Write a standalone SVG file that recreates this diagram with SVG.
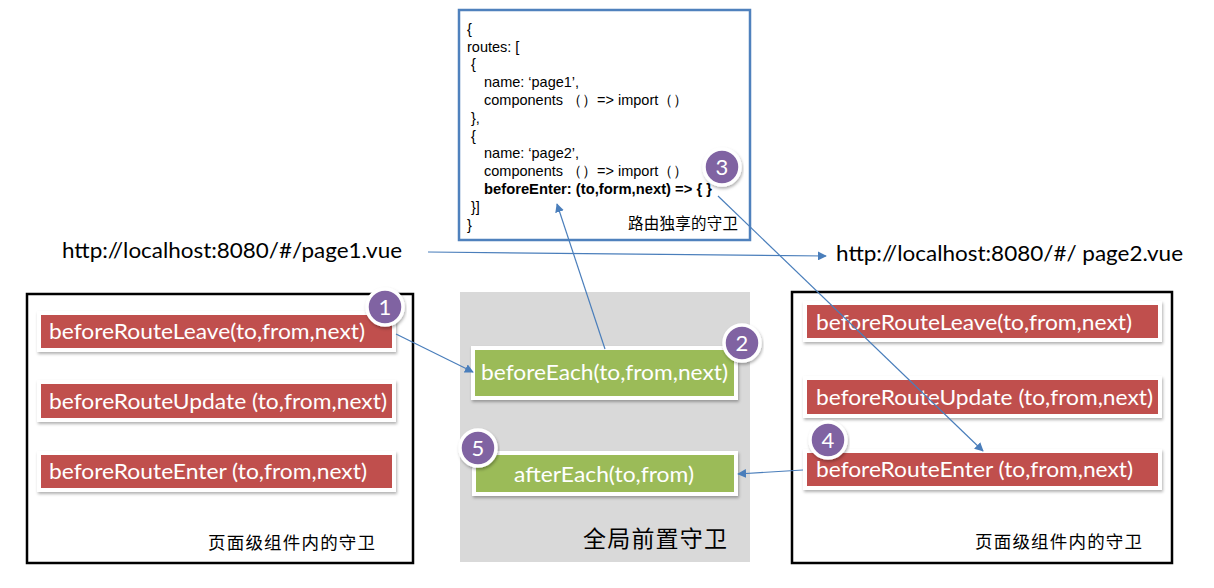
<svg xmlns="http://www.w3.org/2000/svg" width="1214" height="588" viewBox="0 0 1214 588">
<defs>
<filter id="sh" x="-10%" y="-20%" width="120%" height="150%">
<feDropShadow dx="1" dy="2" stdDeviation="1.5" flood-color="#000" flood-opacity="0.3"/>
</filter>
<marker id="ah" viewBox="0 0 10 10" refX="9" refY="5" markerWidth="9" markerHeight="9" markerUnits="userSpaceOnUse" orient="auto">
<path d="M0,0 L10,5 L0,10 Z" fill="#4A7EBB"/>
</marker>
</defs>
<style>
.frame{fill:#fff;stroke:#000;stroke-width:2.5}
.red{fill:#C0504D;stroke:#fff;stroke-width:4;filter:url(#sh)}
.green{fill:#9BBB59;stroke:#fff;stroke-width:4;filter:url(#sh)}
.lbl{font-family:Lato,"Open Sans","Liberation Sans",sans-serif;font-size:22px;fill:#fff}
.url{font-family:Lato,"Open Sans","Liberation Sans",sans-serif;font-size:22px;fill:#000}
.code{font-family:"Liberation Sans",Arial,sans-serif;font-size:14.5px;fill:#000}
.cjk{font-family:"Noto Sans CJK SC","Noto Sans",sans-serif;fill:#000}
.badge circle{fill:#8064A2;stroke:#fff;stroke-width:3.5;filter:url(#sh)}
.badge text{font-family:Lato,"Liberation Sans",sans-serif;font-size:22px;fill:#fff;text-anchor:middle}
.conn{stroke:#4A7EBB;stroke-width:1.2;fill:none;marker-end:url(#ah)}
</style>
<rect width="1214" height="588" fill="#fff"/>

<g id="route-config">
<rect x="459" y="10" width="291" height="230" fill="#fff" stroke="#4F81BD" stroke-width="2.5"/>
<text class="code" x="467" y="33.7">{</text>
<text class="code" x="467" y="51.5">routes: [</text>
<text class="code" x="471" y="69.3">{</text>
<text class="code" x="484" y="87.1">name: ‘page1’,</text>
<text class="code" x="484" y="104.9">components （）=&gt; import（）</text>
<text class="code" x="471" y="122.7">},</text>
<text class="code" x="471" y="140.5">{</text>
<text class="code" x="484" y="158.3">name: ‘page2’,</text>
<text class="code" x="484" y="176.1">components （）=&gt; import（）</text>
<text class="code" x="484" y="193.9" font-weight="bold" textLength="228" lengthAdjust="spacingAndGlyphs">beforeEnter: (to,form,next) =&gt; { }</text>
<text class="code" x="471" y="211.7">}]</text>
<text class="code" x="467" y="229.5">}</text>
<text class="cjk" x="628" y="229" font-size="15.5" textLength="110">路由独享的守卫</text>
</g>

<g id="url-page1">
<text class="url" x="62" y="258" textLength="340" lengthAdjust="spacingAndGlyphs">http://localhost:8080/#/page1.vue</text>
</g>
<g id="url-page2">
<text class="url" x="836" y="261" textLength="347" lengthAdjust="spacingAndGlyphs">http://localhost:8080/#/ page2.vue</text>
</g>

<g id="page1-guards">
<rect class="frame" x="27" y="294" width="386" height="269"/>
<rect class="red" x="39" y="313" width="355" height="37"/>
<text class="lbl" x="49" y="339" textLength="316" lengthAdjust="spacingAndGlyphs">beforeRouteLeave(to,from,next)</text>
<rect class="red" x="39" y="382" width="355" height="38"/>
<text class="lbl" x="49" y="409" textLength="338" lengthAdjust="spacingAndGlyphs">beforeRouteUpdate (to,from,next)</text>
<rect class="red" x="39" y="453" width="355" height="37"/>
<text class="lbl" x="49" y="479" textLength="318" lengthAdjust="spacingAndGlyphs">beforeRouteEnter (to,from,next)</text>
<text class="cjk" x="208" y="549" font-size="17.5" textLength="167">页面级组件内的守卫</text>
</g>

<g id="global-guards">
<rect x="460" y="292" width="290" height="270" fill="#D9D9D9"/>
<rect class="green" x="473" y="348" width="263" height="50"/>
<text class="lbl" x="481" y="380" textLength="247" lengthAdjust="spacingAndGlyphs">beforeEach(to,from,next)</text>
<rect class="green" x="474" y="453" width="262" height="41"/>
<text class="lbl" x="514" y="482" textLength="180" lengthAdjust="spacingAndGlyphs">afterEach(to,from)</text>
<text class="cjk" x="583" y="547" font-size="23" textLength="144">全局前置守卫</text>
</g>

<g id="page2-guards">
<rect class="frame" x="792" y="292" width="380" height="271"/>
<rect class="red" x="805" y="303" width="355" height="37"/>
<text class="lbl" x="816" y="330" textLength="316" lengthAdjust="spacingAndGlyphs">beforeRouteLeave(to,from,next)</text>
<rect class="red" x="805" y="378" width="355" height="38"/>
<text class="lbl" x="816" y="405" textLength="337" lengthAdjust="spacingAndGlyphs">beforeRouteUpdate (to,from,next)</text>
<rect class="red" x="805" y="451" width="355" height="37"/>
<text class="lbl" x="816" y="477" textLength="317" lengthAdjust="spacingAndGlyphs">beforeRouteEnter (to,from,next)</text>
<text class="cjk" x="975" y="548" font-size="17.5" textLength="167">页面级组件内的守卫</text>
</g>

<g id="connectors">
<line class="conn" x1="428" y1="252" x2="826" y2="256"/>
<line class="conn" x1="396" y1="334" x2="473" y2="372"/>
<line class="conn" x1="605" y1="349" x2="557" y2="204"/>
<line class="conn" x1="718" y1="196" x2="983" y2="451"/>
<line class="conn" x1="803" y1="470" x2="738" y2="474"/>
</g>

<g id="badge-1" class="badge"><circle cx="385" cy="307" r="18"/><text x="385" y="315">1</text></g>
<g id="badge-2" class="badge"><circle cx="742" cy="343" r="18"/><text x="742" y="351">2</text></g>
<g id="badge-3" class="badge"><circle cx="722" cy="167" r="18"/><text x="722" y="175">3</text></g>
<g id="badge-4" class="badge"><circle cx="828" cy="440" r="18"/><text x="828" y="448">4</text></g>
<g id="badge-5" class="badge"><circle cx="478" cy="448" r="18"/><text x="478" y="456">5</text></g>
</svg>
